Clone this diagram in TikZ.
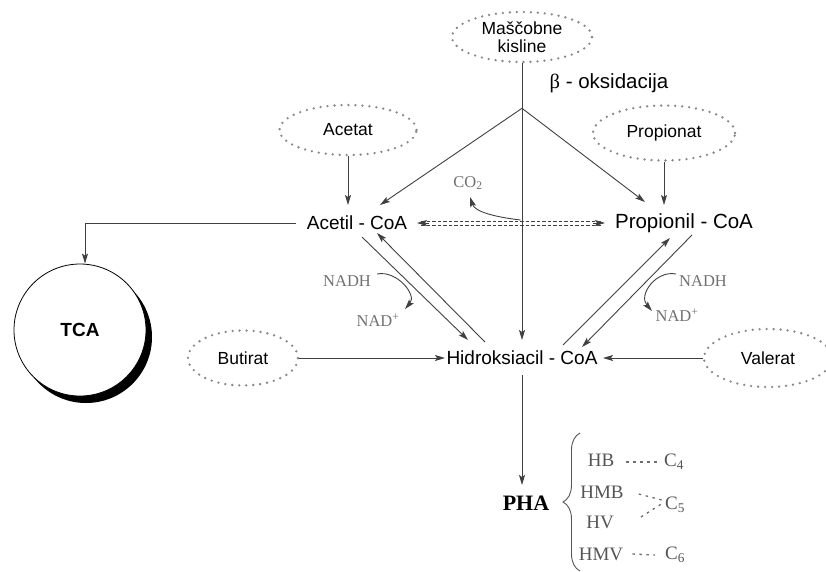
\documentclass[tikz,border=0pt]{standalone}
\usepackage{fontspec}
\setmainfont{Liberation Sans}
\newfontfamily\serf{Liberation Serif}
\usetikzlibrary{shapes.geometric,arrows.meta,calc,decorations.pathreplacing}
\definecolor{ln}{HTML}{404040}
\definecolor{dotc}{HTML}{888888}
\definecolor{lbl}{HTML}{707070}
\definecolor{phat}{HTML}{555555}
\tikzset{
  srcbox/.style={ellipse, draw=dotc, line width=2.6pt, dash pattern=on 0pt off 7pt, line cap=round, inner sep=0pt, align=center, font=\fontsize{17.5}{18}\selectfont},
  coabox/.style={inner sep=0pt, font=\fontsize{19}{20}\selectfont},
  link/.style={draw=ln, line width=0.9pt},
  arr/.style={link, -{Stealth[length=10pt,width=6pt,inset=2pt]}},
  dsh/.style={draw=ln, line width=0.8pt, dash pattern=on 3.5pt off 2pt},
  serlbl/.style={inner sep=0pt, text=lbl, font=\serf\fontsize{16.5}{17}\selectfont},
  phalbl/.style={inner sep=0pt, text=phat, font=\serf\fontsize{19}{20}\selectfont},
  dotlink/.style={draw=phat!85, line width=1.3pt, dash pattern=on 2.5pt off 4.5pt},
}
\begin{document}
\begin{tikzpicture}[x=1pt,y=-1pt]
\useasboundingbox (0,0) rectangle (826,571);
% source ellipses
\node[srcbox, minimum width=140pt, minimum height=50pt] (mk) at (522,37) {Maščobne\\kisline};
\node[srcbox, minimum width=137pt, minimum height=50pt] (acetat) at (348,130) {Acetat};
\node[srcbox, minimum width=142pt, minimum height=55pt] (propionat) at (664,133) {Propionat};
\node[srcbox, minimum width=110pt, minimum height=55pt] (butirat) at (243,358) {Butirat};
\node[srcbox, minimum width=128pt, minimum height=58pt] (valerat) at (768,358) {Valerat};
% CoA nodes
\node[coabox] (acetil) at (357,223) {Acetil - CoA};
\node[coabox, font=\fontsize{20.5}{21}\selectfont] (propionil) at (684,223) {Propionil - CoA};
\node[coabox] (hidro) at (522,358) {Hidroksiacil - CoA};
\node[inner sep=0pt, font=\fontsize{20.5}{21}\selectfont] (beta) at (609,83) {{\serf β} - oksidacija};
% TCA
\coordinate (tcac) at (80,330);
\fill[black] ($(tcac)+(6,7)$) circle[radius=66pt];
\node[circle, draw=black, line width=0.8pt, fill=white, minimum size=132pt, inner sep=0pt, font=\bfseries\fontsize{19}{20}\selectfont] (tca) at (tcac) {TCA};
% PHA
\node[inner sep=0pt, font=\serf\bfseries\fontsize{22}{24}\selectfont] (pha) at (526,503) {PHA};
\node[phalbl] (hb) at (601,460) {HB};
\node[phalbl] (hmb) at (602,492) {HMB};
\node[phalbl] (hv) at (600,522) {HV};
\node[phalbl] (hmv) at (601,554) {HMV};
\node[phalbl] (c4) at (674,462) {C\textsubscript{4}};
\node[phalbl] (c5) at (675,505) {C\textsubscript{5}};
\node[phalbl] (c6) at (675,555) {C\textsubscript{6}};
% labels
\node[serlbl] (co2) at (468,183) {CO\textsubscript{2}};
\node[serlbl] (nadhL) at (347,281) {NADH};
\node[serlbl] (nadL) at (378,320) {NAD\textsuperscript{+}};
\node[serlbl] (nadhR) at (703,281) {NADH};
\node[serlbl] (nadR) at (677,315) {NAD\textsuperscript{+}};
% connectors
\coordinate (apex) at ($(mk.south)+(0,45)$);
\draw[arr] (mk.south) -- ($(hidro)+(0,-18)$);
\draw[arr] (apex) -- ($(acetil)+(23,-18)$);
\draw[arr] (apex) -- ($(propionil)+(-39,-21)$);
\draw[arr] (acetat.south) -- ($(acetat.south |- acetil)+(0,-18)$);
\draw[arr] (propionat.south) -- ($(propionat.south |- propionil)+(0,-18)$);
% acetil <-> hidro
\draw[arr] ($(acetil)+(5,14)$) -- ($(hidro)+(-54,-18)$);
\draw[arr] ($(hidro)+(-37,-16)$) -- ($(acetil)+(20,10)$);
% propionil <-> hidro
\draw[arr] ($(hidro)+(41,-13)$) -- ($(propionil)+(-14,15)$);
\draw[arr] ($(propionil)+(8,12)$) -- ($(hidro)+(60,-11)$);
% butirat, valerat
\draw[arr] (butirat.east) -- ($(hidro)+(-77,0)$);
\draw[arr] (valerat.west) -- ($(hidro)+(81,0)$);
% acetil <-> propionil dashed
\draw[dsh] ($(acetil)+(64,-2)$) -- ($(propionil)+(-83,-2)$);
\draw[dsh] ($(acetil)+(64,2)$) -- ($(propionil)+(-83,2)$);
\draw[arr] ($(acetil)+(72,0)$) -- ($(acetil)+(60,0)$);
\draw[arr] ($(propionil)+(-91,0)$) -- ($(propionil)+(-79,0)$);
\draw[arr] ($(acetil)!0.5!(propionil)+(0,-3)$) .. controls +(-25,-3) and +(5,15) .. ($(co2)+(2,14)$);
% NADH curves
\draw[arr] ($(nadhL.east)+(6,-7)$) .. controls +(20,-4) and +(12,-14) .. ($(nadL)+(27,-11)$);
\draw[arr] ($(nadhR.west)+(-3,-7)$) .. controls +(-20,-4) and +(-14,-16) .. ($(nadR)+(-25,-4)$);
% TCA
\draw[arr] ($(acetil)+(-61,0)$) -| ($(tca.north)+(5,0)$);
% PHA
\draw[arr] ($(hidro)+(0,17)$) -- ($(pha)+(-4,-18)$);
\draw[draw=phat, line width=0.9pt, decorate, decoration={brace, amplitude=17pt}] ($(pha)+(54,68)$) -- ($(pha)+(54,-70)$);
\draw[dotlink] ($(hb.east)+(12,2)$) -- ($(c4.west)+(-5,0)$);
\draw[dotlink] ($(hmb.east)+(15,2)$) -- ($(c5.west)+(-3,-5)$);
\draw[dotlink] ($(hv.east)+(27,-5)$) -- ($(c5.west)+(-2,-2)$);
\draw[dotlink] ($(hmv.east)+(9,0)$) -- ($(c6.west)+(-10,0)$);
\end{tikzpicture}
\end{document}
